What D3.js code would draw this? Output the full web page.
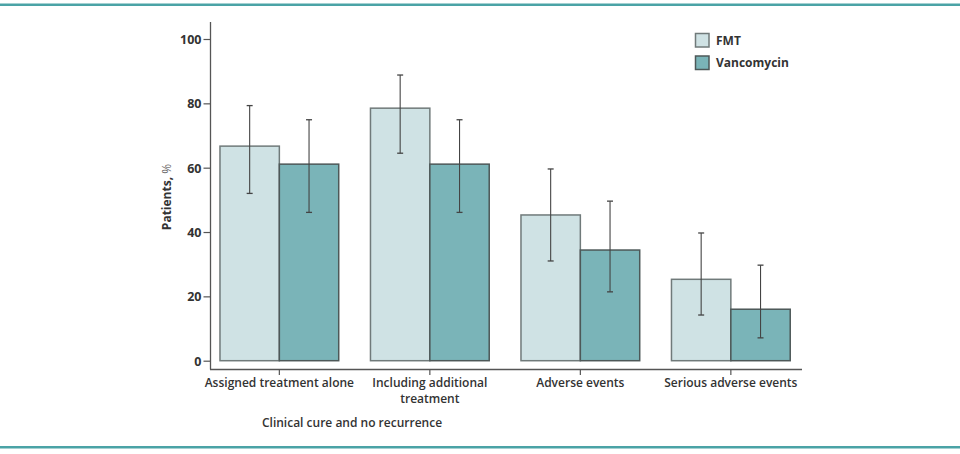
<!DOCTYPE html>
<html><head><meta charset="utf-8">
<script src="https://cdn.jsdelivr.net/npm/d3@7"></script>
<style>
body{margin:0;background:#fff;}
text{font-family:"Open Sans",sans-serif;}
</style></head>
<body>
<svg id="c" width="960" height="454"></svg>
<script>
const categories = ["Assigned treatment alone", "Including additional|treatment", "Adverse events", "Serious adverse events"];
const series = ["FMT", "Vancomycin"];
const fmtValues = [66.7, 78.5, 45.3, 25.3];
const fmtLow = [52.0, 64.5, 31.0, 14.2];
const fmtHigh = [79.3, 88.8, 59.6, 39.7];
const vancValues = [61.1, 61.1, 34.4, 16.0];
const vancLow = [46.1, 46.1, 21.4, 7.1];
const vancHigh = [74.9, 74.9, 49.6, 29.7];
const yTicks = [0, 20, 40, 60, 80, 100];
const groupLabel = "Clinical cure and no recurrence";
const yLabel = "Patients, ";

const colors = {FMT: "#cfe2e4", Vancomycin: "#7ab4b8"};
const strokes = {FMT: "#707a7a", Vancomycin: "#4d5858"};

const svg = d3.select("#c");
const teal = "#4aa3a6";
svg.append("rect").attr("x",0).attr("y",3.5).attr("width",960).attr("height",2.5).attr("fill",teal);
svg.append("rect").attr("x",0).attr("y",446).attr("width",960).attr("height",2.5).attr("fill",teal);

const y = d3.scaleLinear().domain([0,100]).range([360.7, 39]);
const x0 = d3.scaleBand().domain(categories).range([204.1, 806.1]).paddingInner(0.211).paddingOuter(0.1055);
const x1 = d3.scaleBand().domain(series).range([0, x0.bandwidth()]);

const data = categories.map((c,i)=>({c, vals:[
  {s:"FMT", v:fmtValues[i], lo:fmtLow[i], hi:fmtHigh[i]},
  {s:"Vancomycin", v:vancValues[i], lo:vancLow[i], hi:vancHigh[i]}
]}));

// axes lines
const axisColor = "#555";
svg.append("line").attr("x1",210.5).attr("x2",210.5).attr("y1",22).attr("y2",369.5).attr("stroke",axisColor).attr("stroke-width",1.3);
svg.append("line").attr("x1",210).attr("x2",802).attr("y1",369.5).attr("y2",369.5).attr("stroke",axisColor).attr("stroke-width",1.3);

// y ticks
const yAxis = svg.append("g").attr("transform","translate(210.5,0)")
  .call(d3.axisLeft(y).tickValues(yTicks).tickSize(7).tickPadding(2));
yAxis.select(".domain").remove();
yAxis.selectAll(".tick line").attr("stroke",axisColor).attr("stroke-width",1.2);
yAxis.selectAll(".tick text").attr("fill","#333").attr("font-size",12.5).attr("font-weight",700).attr("dy","0.36em");

// x ticks
const xg = svg.append("g");
categories.forEach(c=>{
  const cx = x0(c)+x0.bandwidth()/2;
  xg.append("line").attr("x1",cx).attr("x2",cx).attr("y1",369.5).attr("y2",375).attr("stroke",axisColor).attr("stroke-width",1.2);
  const lines = c.split("|");
  lines.forEach((l,j)=>{
    xg.append("text").attr("x",cx).attr("y",387+j*15.5).attr("text-anchor","middle")
      .attr("font-size",12).attr("font-weight",600).attr("fill","#333").text(l);
  });
});

// bars
const g = svg.append("g").selectAll("g").data(data).join("g").attr("transform",d=>`translate(${x0(d.c)},0)`);
g.selectAll("rect").data(d=>d.vals).join("rect")
  .attr("x",d=>x1(d.s)).attr("width",x1.bandwidth())
  .attr("y",d=>y(d.v)).attr("height",d=>y(0)-y(d.v))
  .attr("fill",d=>colors[d.s]).attr("stroke",d=>strokes[d.s]).attr("stroke-width",1.5);

// error bars
const eb = g.selectAll("g.eb").data(d=>d.vals).join("g").attr("class","eb");
eb.append("line").attr("x1",d=>x1(d.s)+x1.bandwidth()/2).attr("x2",d=>x1(d.s)+x1.bandwidth()/2)
  .attr("y1",d=>y(d.lo)).attr("y2",d=>y(d.hi)).attr("stroke","#444").attr("stroke-width",1.1);
eb.append("line").attr("x1",d=>x1(d.s)+x1.bandwidth()/2-3).attr("x2",d=>x1(d.s)+x1.bandwidth()/2+3)
  .attr("y1",d=>y(d.hi)).attr("y2",d=>y(d.hi)).attr("stroke","#444").attr("stroke-width",1.3);
eb.append("line").attr("x1",d=>x1(d.s)+x1.bandwidth()/2-3).attr("x2",d=>x1(d.s)+x1.bandwidth()/2+3)
  .attr("y1",d=>y(d.lo)).attr("y2",d=>y(d.lo)).attr("stroke","#444").attr("stroke-width",1.3);

// group label
svg.append("text").attr("x",352).attr("y",427).attr("text-anchor","middle")
  .attr("font-size",12).attr("font-weight",600).attr("fill","#333").text(groupLabel);

// y label
const yl = svg.append("text").attr("transform","translate(171,197) rotate(-90)").attr("text-anchor","middle")
  .attr("font-size",12).attr("font-weight",700).attr("fill","#333");
yl.append("tspan").text(yLabel);
yl.append("tspan").attr("font-weight",400).attr("fill","#666").text("%");

// legend
series.forEach((s,i)=>{
  svg.append("rect").attr("x",695.5).attr("y",33.5+i*22.5).attr("width",13.5).attr("height",13.5)
    .attr("fill",colors[s]).attr("stroke",strokes[s]).attr("stroke-width",1.5);
  svg.append("text").attr("x",716).attr("y",44.5+i*22.5).attr("font-size",12).attr("font-weight",700).attr("fill","#333").text(s);
});
</script>
</body></html>
